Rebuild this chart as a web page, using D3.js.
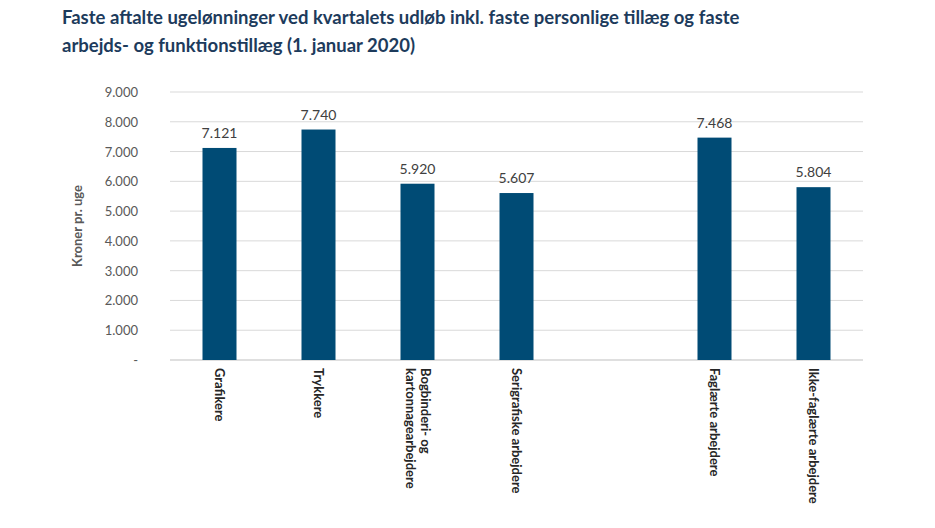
<!DOCTYPE html><html><head><meta charset="utf-8"><script src="https://cdn.jsdelivr.net/npm/d3@7"></script>
<style>body{margin:0;background:#fff}text{font-family:Lato,"Open Sans",sans-serif}</style></head><body>
<svg id="c" width="935" height="528"></svg>
<script>
const categories=["Grafikere","Trykkere","Bogbinderi- og|kartonnagearbejdere","Serigrafiske arbejdere","","Faglærte arbejdere","Ikke-faglærte arbejdere"];
const values=[7121,7740,5920,5607,null,7468,5804];
const yTicks=[0,1000,2000,3000,4000,5000,6000,7000,8000,9000];
const svg=d3.select("#c");
const fmt=d3.formatLocale({decimal:",",thousands:".",grouping:[3],currency:["",""]}).format(",.0f");
svg.append("text").attr("x",62).attr("y",24).attr("font-size",18.5).attr("font-weight","bold").attr("fill","#1d3b5c").text("Faste aftalte ugelønninger ved kvartalets udløb inkl. faste personlige tillæg og faste");
svg.append("text").attr("x",62).attr("y",52).attr("font-size",18.5).attr("font-weight","bold").attr("fill","#1d3b5c").text("arbejds- og funktionstillæg (1. januar 2020)");
const x=d3.scaleBand().domain(d3.range(categories.length)).range([170,863]);
const y=d3.scaleLinear().domain([0,9000]).range([360,92]);
svg.append("g").selectAll("line").data(yTicks).join("line").attr("x1",170).attr("x2",863).attr("y1",d=>y(d)).attr("y2",d=>y(d)).attr("stroke",d=>d===0?"#bfbfbf":"#d9d9d9");
svg.append("g").selectAll("text").data(yTicks).join("text").attr("x",138).attr("y",d=>y(d)+5).attr("text-anchor","end").attr("font-size",13).attr("fill","#595959").text(d=>d===0?"-":fmt(d));
svg.append("text").attr("transform","translate(82,226) rotate(-90)").attr("text-anchor","middle").attr("font-size",13).attr("font-weight","bold").attr("fill","#595959").text("Kroner pr. uge");
const bw=34;
const idx=d3.range(values.length).filter(i=>values[i]!=null);
svg.append("g").selectAll("rect").data(idx).join("rect").attr("x",i=>x(i)+x.bandwidth()/2-bw/2).attr("width",bw).attr("y",i=>y(values[i])).attr("height",i=>y(0)-y(values[i])).attr("fill","#004b75");
svg.append("g").selectAll("text").data(idx).join("text").attr("x",i=>x(i)+x.bandwidth()/2).attr("y",i=>y(values[i])-10).attr("text-anchor","middle").attr("font-size",14).attr("fill","#404040").text(i=>fmt(values[i]));
categories.forEach((c,i)=>{if(!c)return;const lines=c.split("|");const cx=x(i)+x.bandwidth()/2;
 const g=svg.append("text").attr("transform",`translate(${cx},368) rotate(90)`).attr("font-size",13).attr("font-weight","bold").attr("fill","#262626");
 lines.forEach((l,k)=>g.append("tspan").attr("x",0).attr("y",(k-(lines.length-1)/2)*15+4.5).text(l));});
</script></body></html>
